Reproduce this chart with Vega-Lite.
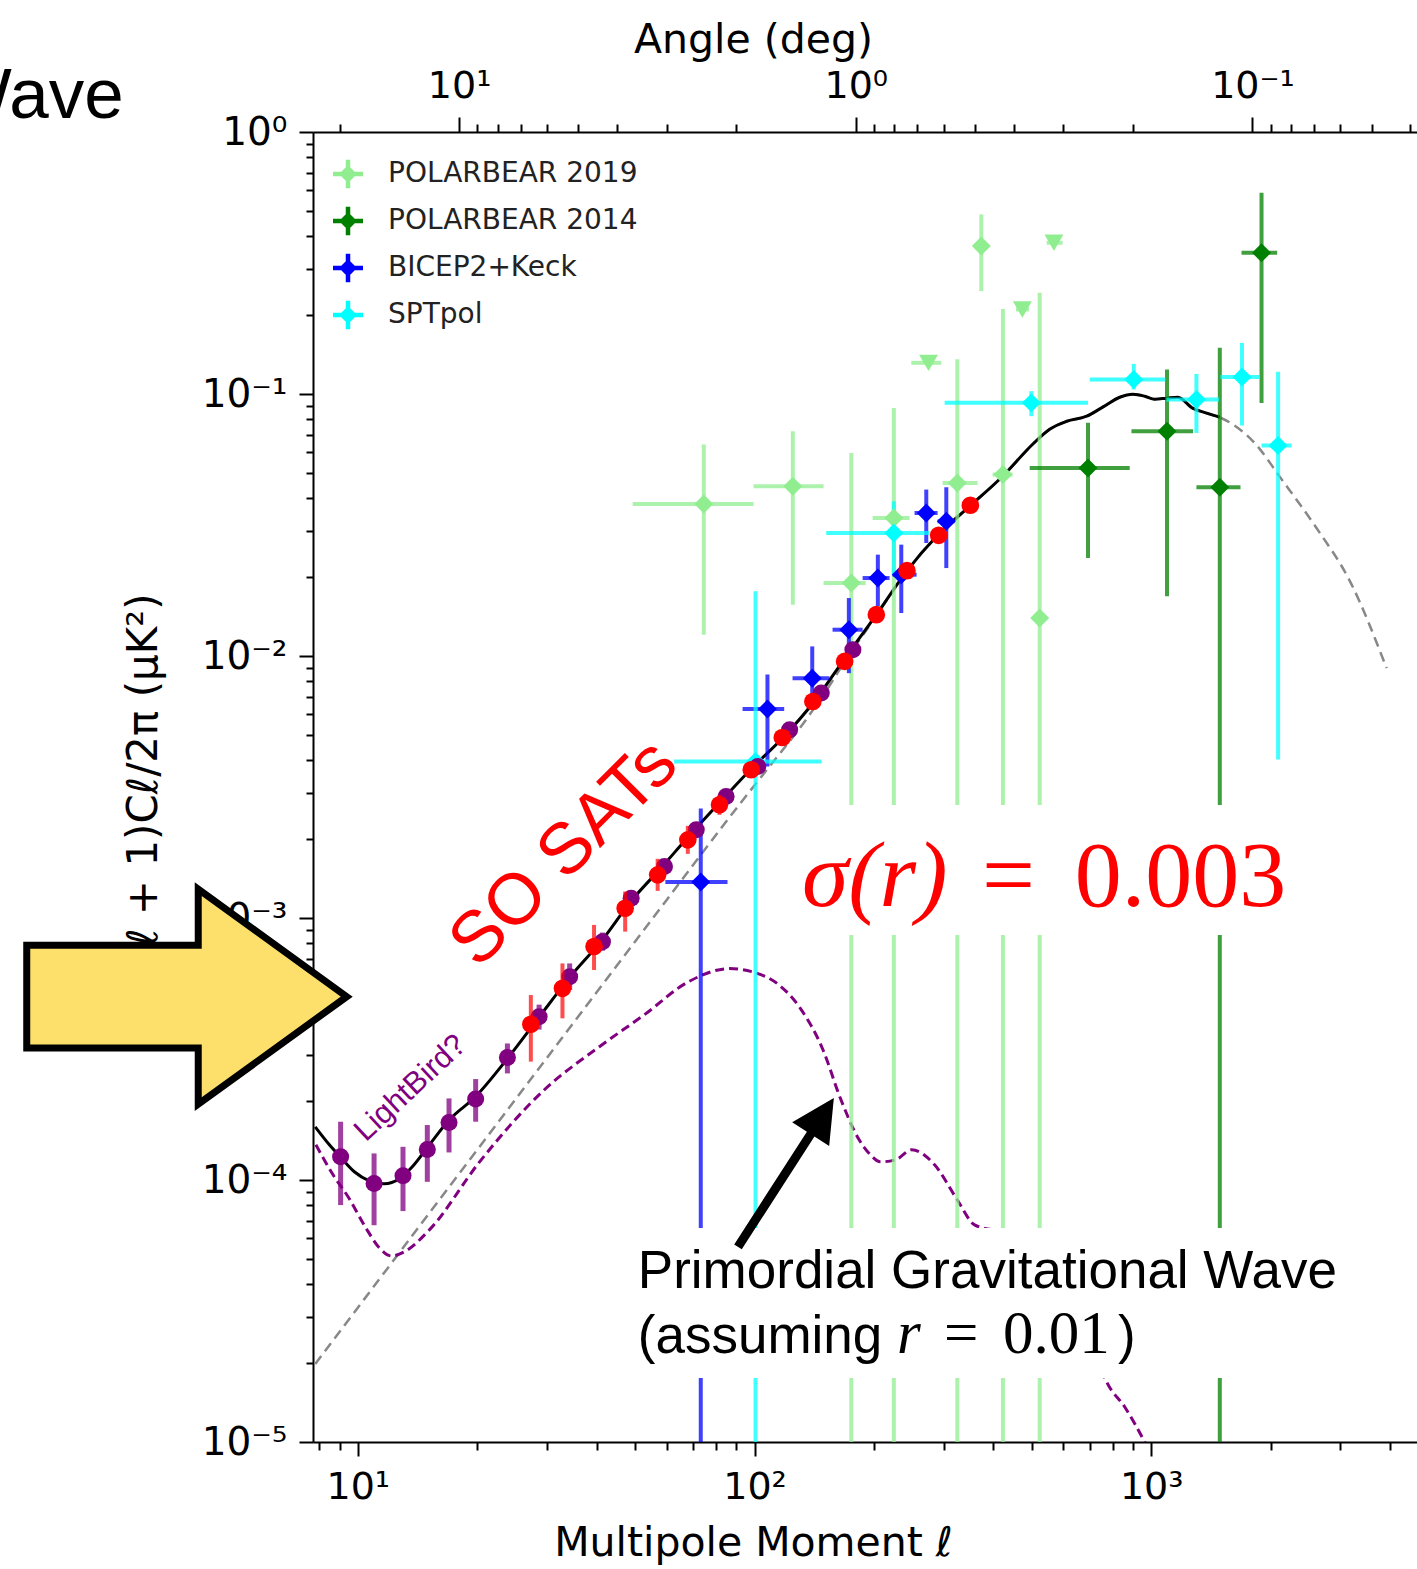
{
  "$schema": "https://vega.github.io/schema/vega-lite/v6.json",
  "usermeta": {"embedOptions": {"actions": false}},
  "width": 1104,
  "height": 1310,
  "autosize": {"type": "none"},
  "padding": {"left": 313, "top": 132, "right": 0, "bottom": 127},
  "background": "white",
  "config": {"view": {"stroke": null}, "font": "DejaVu Sans"},
  "datasets": {
    "total": [
      {"ell": 7.81, "v": 1.596e-4}, {"ell": 8.48, "v": 1.363e-4}, {"ell": 9.03, "v": 1.226e-4}, {"ell": 9.80, "v": 1.075e-4},
      {"ell": 10.69, "v": 9.93e-5}, {"ell": 11.66, "v": 9.67e-5}, {"ell": 12.73, "v": 1.011e-4}, {"ell": 13.72, "v": 1.123e-4},
      {"ell": 15.15, "v": 1.363e-4}, {"ell": 17.01, "v": 1.698e-4}, {"ell": 19.79, "v": 2.078e-4}, {"ell": 23.82, "v": 2.903e-4},
      {"ell": 28.69, "v": 4.20e-4}, {"ell": 34.16, "v": 5.92e-4}, {"ell": 41.37, "v": 8.27e-4}, {"ell": 48.96, "v": 1.165e-3},
      {"ell": 57.61, "v": 1.530e-3}, {"ell": 68.55, "v": 2.064e-3}, {"ell": 82.56, "v": 2.808e-3}, {"ell": 98.85, "v": 3.753e-3},
      {"ell": 118.4, "v": 4.906e-3}, {"ell": 141.7, "v": 6.733e-3}, {"ell": 169.6, "v": 9.88e-3}, {"ell": 203.1, "v": 1.442e-2},
      {"ell": 241.7, "v": 2.104e-2}, {"ell": 289.4, "v": 2.888e-2}, {"ell": 348.5, "v": 3.727e-2}, {"ell": 422.2, "v": 4.853e-2},
      {"ell": 502.5, "v": 6.43e-2}, {"ell": 554.6, "v": 7.34e-2}, {"ell": 612.3, "v": 7.87e-2}, {"ell": 687.8, "v": 8.23e-2},
      {"ell": 754.6, "v": 8.91e-2}, {"ell": 832.8, "v": 9.72e-2}, {"ell": 898.3, "v": 9.98e-2}, {"ell": 962.9, "v": 9.81e-2},
      {"ell": 1020.5, "v": 9.55e-2}, {"ell": 1094, "v": 9.64e-2}, {"ell": 1166.5, "v": 9.72e-2}, {"ell": 1272, "v": 8.83e-2},
      {"ell": 1380, "v": 8.45e-2}, {"ell": 1488.6, "v": 8.15e-2}
    ],
    "lensing": [
      {"ell": 7.81, "v": 1.986e-5}, {"ell": 15, "v": 7.33e-5}, {"ell": 30, "v": 2.93e-4}, {"ell": 60, "v": 1.17e-3},
      {"ell": 90, "v": 2.62e-3}, {"ell": 110, "v": 3.85e-3}, {"ell": 130, "v": 5.3e-3}, {"ell": 150, "v": 7.2e-3},
      {"ell": 169.6, "v": 9.6e-3}, {"ell": 203.1, "v": 1.43e-2}, {"ell": 241.7, "v": 2.098e-2}, {"ell": 289.4, "v": 2.882e-2},
      {"ell": 348.5, "v": 3.72e-2}, {"ell": 422.2, "v": 4.85e-2}, {"ell": 502.5, "v": 6.42e-2}, {"ell": 554.6, "v": 7.33e-2},
      {"ell": 612.3, "v": 7.86e-2}, {"ell": 687.8, "v": 8.22e-2}, {"ell": 754.6, "v": 8.90e-2}, {"ell": 832.8, "v": 9.71e-2},
      {"ell": 898.3, "v": 9.97e-2}, {"ell": 962.9, "v": 9.80e-2}, {"ell": 1020.5, "v": 9.54e-2}, {"ell": 1094, "v": 9.63e-2},
      {"ell": 1166.5, "v": 9.71e-2}, {"ell": 1272, "v": 8.82e-2}, {"ell": 1380, "v": 8.44e-2}, {"ell": 1488.6, "v": 8.14e-2},
      {"ell": 1806, "v": 6.60e-2}, {"ell": 2149, "v": 4.645e-2}, {"ell": 2610, "v": 3.08e-2}, {"ell": 3168, "v": 1.932e-2},
      {"ell": 3920, "v": 8.99e-3}
    ],
    "tensor": [
      {"ell": 7.84, "v": 1.363e-4}, {"ell": 8.63, "v": 1.056e-4}, {"ell": 9.52, "v": 8.48e-5}, {"ell": 10.44, "v": 6.63e-5},
      {"ell": 11.33, "v": 5.51e-5}, {"ell": 12.15, "v": 5.13e-5}, {"ell": 13.10, "v": 5.32e-5}, {"ell": 15.15, "v": 6.45e-5},
      {"ell": 20.25, "v": 1.17e-4}, {"ell": 29.72, "v": 2.23e-4}, {"ell": 40.64, "v": 3.227e-4}, {"ell": 52.8, "v": 4.276e-4},
      {"ell": 68.15, "v": 5.71e-4}, {"ell": 86.5, "v": 6.41e-4}, {"ell": 98.3, "v": 6.24e-4}, {"ell": 115.0, "v": 5.57e-4},
      {"ell": 130.6, "v": 4.51e-4}, {"ell": 148.4, "v": 3.17e-4}, {"ell": 164.8, "v": 2.042e-4}, {"ell": 182.9, "v": 1.437e-4},
      {"ell": 195.0, "v": 1.259e-4}, {"ell": 207.9, "v": 1.173e-4}, {"ell": 226.8, "v": 1.194e-4}, {"ell": 248.9, "v": 1.304e-4},
      {"ell": 284.4, "v": 1.143e-4}, {"ell": 323.2, "v": 8.48e-5}, {"ell": 358.7, "v": 6.74e-5}, {"ell": 398.4, "v": 6.45e-5},
      {"ell": 439.7, "v": 6.34e-5}, {"ell": 523.5, "v": 5.32e-5}, {"ell": 623, "v": 3.43e-5}, {"ell": 720, "v": 2.21e-5},
      {"ell": 772, "v": 1.695e-5}, {"ell": 857.6, "v": 1.36e-5}, {"ell": 963, "v": 1.0e-5}, {"ell": 1050, "v": 7.7e-6}
    ],
    "exp": [
      {"exp": "POLARBEAR 2019", "ell": 74.5, "v": 0.03804, "lo": 0.01206, "hi": 0.0641, "xlo": 49.3, "xhi": 99.4},
      {"exp": "POLARBEAR 2019", "ell": 124.9, "v": 0.04444, "lo": 0.0157, "hi": 0.0721, "xlo": 99.4, "xhi": 149.3},
      {"exp": "POLARBEAR 2019", "ell": 175.4, "v": 0.01898, "lo": 1e-7, "hi": 0.0596, "xlo": 149.3, "xhi": 190.6},
      {"exp": "POLARBEAR 2019", "ell": 224.5, "v": 0.03363, "lo": 1e-7, "hi": 0.0885, "xlo": 198.5, "xhi": 246},
      {"exp": "POLARBEAR 2019", "ell": 324.5, "v": 0.04575, "lo": 1e-7, "hi": 0.1358, "xlo": 298, "xhi": 365},
      {"exp": "POLARBEAR 2019", "ell": 422.9, "v": 0.04926, "lo": 1e-7, "hi": 0.2109, "xlo": 398.3, "xhi": 447.3},
      {"exp": "POLARBEAR 2019", "ell": 523.4, "v": 0.01396, "lo": 1e-7, "hi": 0.2433, "xlo": 515, "xhi": 532},
      {"exp": "POLARBEAR 2019", "ell": 373, "v": 0.3669, "lo": 0.247, "hi": 0.4849, "xlo": 360, "xhi": 386},
      {"exp": "POLARBEAR 2014", "ell": 692.9, "v": 0.0522, "lo": 0.02365, "hi": 0.0776, "xlo": 493.9, "xhi": 882.6},
      {"exp": "POLARBEAR 2014", "ell": 1096, "v": 0.0721, "lo": 0.01689, "hi": 0.1241, "xlo": 891.5, "xhi": 1275},
      {"exp": "POLARBEAR 2014", "ell": 1489, "v": 0.04406, "lo": 1e-7, "hi": 0.15, "xlo": 1300, "xhi": 1679},
      {"exp": "POLARBEAR 2014", "ell": 1897, "v": 0.3459, "lo": 0.0924, "hi": 0.5863, "xlo": 1689, "xhi": 2077},
      {"exp": "BICEP2+Keck", "ell": 271.0, "v": 0.03514, "lo": 0.02699, "hi": 0.04318, "xlo": 253.2, "xhi": 289.4},
      {"exp": "BICEP2+Keck", "ell": 304.4, "v": 0.03266, "lo": 0.02166, "hi": 0.04406, "xlo": 289.4, "xhi": 319.4},
      {"exp": "BICEP2+Keck", "ell": 234.4, "v": 0.02044, "lo": 0.01459, "hi": 0.02661, "xlo": 222.9, "xhi": 256.2},
      {"exp": "BICEP2+Keck", "ell": 204.6, "v": 0.01984, "lo": 0.01547, "hi": 0.02437, "xlo": 187.3, "xhi": 219.0},
      {"exp": "BICEP2+Keck", "ell": 172.9, "v": 0.0126, "lo": 0.0086, "hi": 0.01664, "xlo": 157.3, "xhi": 187.3},
      {"exp": "BICEP2+Keck", "ell": 139.8, "v": 0.00823, "lo": 0.00653, "hi": 0.01088, "xlo": 124.7, "xhi": 154.5},
      {"exp": "BICEP2+Keck", "ell": 107.8, "v": 0.00628, "lo": 0.003787, "hi": 0.0085, "xlo": 93.3, "xhi": 118.8},
      {"exp": "BICEP2+Keck", "ell": 73.2, "v": 0.001372, "lo": 1e-7, "hi": 0.002617, "xlo": 59.6, "xhi": 85.5},
      {"exp": "SPTpol", "ell": 498.7, "v": 0.0925, "lo": 0.0823, "hi": 0.1025, "xlo": 301.5, "xhi": 692.9},
      {"exp": "SPTpol", "ell": 903.6, "v": 0.1136, "lo": 0.104, "hi": 0.1303, "xlo": 699.8, "xhi": 1086},
      {"exp": "SPTpol", "ell": 1300, "v": 0.0953, "lo": 0.071, "hi": 0.1193, "xlo": 1092, "xhi": 1483},
      {"exp": "SPTpol", "ell": 1694, "v": 0.1162, "lo": 0.0758, "hi": 0.1567, "xlo": 1494.5, "xhi": 1878},
      {"exp": "SPTpol", "ell": 2088.5, "v": 0.0636, "lo": 0.00403, "hi": 0.1215, "xlo": 1897, "xhi": 2257},
      {"exp": "SPTpol", "ell": 224.5, "v": 0.02947, "lo": 0.02044, "hi": 0.03896, "xlo": 151.6, "xhi": 276.3},
      {"exp": "SPTpol", "ell": 100.6, "v": 0.003957, "lo": 1e-7, "hi": 0.01765, "xlo": 62.7, "xhi": 147.6}
    ],
    "ul": [
      {"ell": 274.6, "v": 0.1315, "xlo": 248.5, "xhi": 295.8},
      {"ell": 473.3, "v": 0.2103, "xlo": 456, "xhi": 492},
      {"ell": 568.6, "v": 0.3777, "xlo": 545, "xhi": 598}
    ],
    "lightbird": [
      {"ell": 9.05, "v": 1.226e-4, "lo": 8.02e-5, "hi": 1.669e-4},
      {"ell": 10.99, "v": 9.69e-5, "lo": 6.72e-5, "hi": 1.263e-4},
      {"ell": 13.0, "v": 1.038e-4, "lo": 7.61e-5, "hi": 1.339e-4},
      {"ell": 14.97, "v": 1.307e-4, "lo": 9.84e-5, "hi": 1.621e-4},
      {"ell": 16.98, "v": 1.658e-4, "lo": 1.274e-4, "hi": 2.048e-4},
      {"ell": 19.82, "v": 2.037e-4, "lo": 1.669e-4, "hi": 2.428e-4},
      {"ell": 23.83, "v": 2.937e-4, "lo": 2.552e-4, "hi": 3.32e-4},
      {"ell": 28.64, "v": 4.20e-4, "lo": 3.75e-4, "hi": 4.67e-4},
      {"ell": 34.2, "v": 5.97e-4, "lo": 5.31e-4, "hi": 6.71e-4},
      {"ell": 41.37, "v": 8.12e-4, "lo": 7.5e-4, "hi": 8.8e-4},
      {"ell": 48.87, "v": 1.189e-3, "lo": 1.11e-3, "hi": 1.27e-3},
      {"ell": 59.3, "v": 1.571e-3, "lo": 1.48e-3, "hi": 1.67e-3},
      {"ell": 71.3, "v": 2.170e-3, "lo": 2.05e-3, "hi": 2.30e-3},
      {"ell": 84.8, "v": 2.908e-3, "lo": 2.75e-3, "hi": 3.07e-3},
      {"ell": 101.9, "v": 3.787e-3, "lo": 3.6e-3, "hi": 3.98e-3},
      {"ell": 122.6, "v": 5.23e-3, "lo": 4.98e-3, "hi": 5.49e-3},
      {"ell": 147.3, "v": 7.22e-3, "lo": 6.88e-3, "hi": 7.57e-3},
      {"ell": 177.0, "v": 1.057e-2, "lo": 1.01e-2, "hi": 1.11e-2}
    ],
    "so": [
      {"ell": 27.3, "v": 3.93e-4, "lo": 2.83e-4, "hi": 5.08e-4},
      {"ell": 32.8, "v": 5.39e-4, "lo": 4.14e-4, "hi": 6.71e-4},
      {"ell": 39.4, "v": 7.78e-4, "lo": 6.33e-4, "hi": 9.41e-4},
      {"ell": 47.2, "v": 1.089e-3, "lo": 8.87e-4, "hi": 1.262e-3},
      {"ell": 57.0, "v": 1.461e-3, "lo": 1.269e-3, "hi": 1.682e-3},
      {"ell": 67.9, "v": 1.987e-3, "lo": 1.757e-3, "hi": 2.247e-3},
      {"ell": 81.6, "v": 2.704e-3, "lo": 2.476e-3, "hi": 2.953e-3},
      {"ell": 98.1, "v": 3.678e-3, "lo": 3.428e-3, "hi": 3.946e-3},
      {"ell": 117.5, "v": 4.887e-3, "lo": 4.636e-3, "hi": 5.151e-3},
      {"ell": 140.3, "v": 6.707e-3, "lo": 6.36e-3, "hi": 7.07e-3},
      {"ell": 168.7, "v": 9.537e-3, "lo": 9.05e-3, "hi": 1.005e-2},
      {"ell": 202.8, "v": 1.438e-2, "lo": 1.364e-2, "hi": 1.516e-2},
      {"ell": 242.3, "v": 2.117e-2, "lo": 2.01e-2, "hi": 2.23e-2},
      {"ell": 291.2, "v": 2.888e-2, "lo": 2.74e-2, "hi": 3.04e-2},
      {"ell": 350, "v": 3.76e-2, "lo": 3.57e-2, "hi": 3.96e-2}
    ]
  },
  "layer": [
    {
      "layer": [
        {
          "data": {"name": "lensing"},
          "mark": {"type": "line", "color": "#888888", "strokeWidth": 2.5, "strokeDash": [10, 6], "interpolate": "monotone", "clip": true},
          "encoding": {
            "x": {
              "field": "ell", "type": "quantitative",
              "scale": {"type": "log", "domain": [7.71, 4677], "nice": false},
              "axis": {
                "orient": "bottom", "zindex": 0, "grid": false,
                "values": [8, 9, 10, 20, 30, 40, 50, 60, 70, 80, 90, 100, 200, 300, 400, 500, 600, 700, 800, 900, 1000, 2000, 3000, 4000],
                "labelExpr": "abs(log(datum.value)/LN10 - round(log(datum.value)/LN10)) < 0.01 ? '10' + (round(log(datum.value)/LN10) < 0 ? '⁻' : '') + ['⁰','¹','²','³','⁴','⁵'][abs(round(log(datum.value)/LN10))] : ''",
                "tickSize": {"condition": {"test": "abs(log(datum.value)/LN10 - round(log(datum.value)/LN10)) < 0.01", "value": 14}, "value": 8},
                "tickWidth": 2, "tickColor": "black", "domainColor": "black", "domainWidth": 2,
                "labelFont": "DejaVu Sans", "labelFontSize": 38, "labelColor": "black", "labelPadding": 12,
                "labelOverlap": false, "labelFlush": false, "labelBound": false,
                "title": "Multipole Moment ℓ", "titleFont": "DejaVu Sans", "titleFontSize": 41, "titleFontWeight": "normal",
                "titleColor": "black", "titleX": 440, "titleY": 113, "titleAlign": "center", "titleBaseline": "alphabetic", "titleLimit": 1000
              }
            },
            "y": {
              "field": "v", "type": "quantitative",
              "scale": {"type": "log", "domain": [1e-5, 1], "nice": false},
              "axis": {
                "orient": "left", "zindex": 0, "grid": false,
                "values": [1e-5, 2e-5, 3e-5, 4e-5, 5e-5, 6e-5, 7e-5, 8e-5, 9e-5, 1e-4, 2e-4, 3e-4, 4e-4, 5e-4, 6e-4, 7e-4, 8e-4, 9e-4, 1e-3, 2e-3, 3e-3, 4e-3, 5e-3, 6e-3, 7e-3, 8e-3, 9e-3, 0.01, 0.02, 0.03, 0.04, 0.05, 0.06, 0.07, 0.08, 0.09, 0.1, 0.2, 0.3, 0.4, 0.5, 0.6, 0.7, 0.8, 0.9, 1],
                "labelExpr": "abs(log(datum.value)/LN10 - round(log(datum.value)/LN10)) < 0.01 ? '10' + (round(log(datum.value)/LN10) < 0 ? '⁻' : '') + ['⁰','¹','²','³','⁴','⁵'][abs(round(log(datum.value)/LN10))] : ''",
                "tickSize": {"condition": {"test": "abs(log(datum.value)/LN10 - round(log(datum.value)/LN10)) < 0.01", "value": 14}, "value": 7},
                "tickWidth": 2, "tickColor": "black", "domainColor": "black", "domainWidth": 2,
                "labelFont": "DejaVu Sans", "labelFontSize": 39, "labelColor": "black", "labelPadding": 12,
                "labelOverlap": false, "labelFlush": false, "labelBound": false, "labelLimit": 300,
                "title": "ℓ(ℓ + 1)Cℓ/2π (μK²)", "titleFont": "DejaVu Sans", "titleFontSize": 42, "titleFontWeight": "normal",
                "titleColor": "black", "titleX": -157, "titleY": 654, "titleAngle": 270, "titleAlign": "center", "titleBaseline": "alphabetic", "titleLimit": 1000
              }
            }
          }
        },
        {
          "data": {"name": "tensor"},
          "mark": {"type": "line", "color": "#800080", "strokeWidth": 3, "strokeDash": [9, 5], "interpolate": "monotone", "clip": true},
          "encoding": {"x": {"field": "ell", "type": "quantitative"}, "y": {"field": "v", "type": "quantitative"}}
        },
        {
          "data": {"name": "total"},
          "mark": {"type": "line", "color": "black", "strokeWidth": 3, "interpolate": "monotone", "clip": true},
          "encoding": {"x": {"field": "ell", "type": "quantitative"}, "y": {"field": "v", "type": "quantitative"}}
        },
        {
          "data": {"name": "exp"},
          "transform": [{"filter": "datum.exp === 'POLARBEAR 2019'"}],
          "layer": [
            {"mark": {"type": "rule", "strokeWidth": 4, "opacity": 0.75, "color": "#90EE90", "clip": true},
             "encoding": {"x": {"field": "ell", "type": "quantitative"}, "y": {"field": "lo", "type": "quantitative"}, "y2": {"field": "hi"}}},
            {"mark": {"type": "rule", "strokeWidth": 4, "opacity": 0.75, "color": "#90EE90", "clip": true},
             "encoding": {"y": {"field": "v", "type": "quantitative"}, "x": {"field": "xlo", "type": "quantitative"}, "x2": {"field": "xhi"}}}
          ]
        },
        {
          "data": {"name": "exp"},
          "transform": [{"filter": "datum.exp === 'POLARBEAR 2014'"}],
          "layer": [
            {"mark": {"type": "rule", "strokeWidth": 4, "opacity": 0.75, "color": "#008000", "clip": true},
             "encoding": {"x": {"field": "ell", "type": "quantitative"}, "y": {"field": "lo", "type": "quantitative"}, "y2": {"field": "hi"}}},
            {"mark": {"type": "rule", "strokeWidth": 4, "opacity": 0.75, "color": "#008000", "clip": true},
             "encoding": {"y": {"field": "v", "type": "quantitative"}, "x": {"field": "xlo", "type": "quantitative"}, "x2": {"field": "xhi"}}}
          ]
        },
        {
          "data": {"name": "exp"},
          "transform": [{"filter": "datum.exp === 'BICEP2+Keck'"}],
          "layer": [
            {"mark": {"type": "rule", "strokeWidth": 4, "opacity": 0.75, "color": "#0000FF", "clip": true},
             "encoding": {"x": {"field": "ell", "type": "quantitative"}, "y": {"field": "lo", "type": "quantitative"}, "y2": {"field": "hi"}}},
            {"mark": {"type": "rule", "strokeWidth": 4, "opacity": 0.75, "color": "#0000FF", "clip": true},
             "encoding": {"y": {"field": "v", "type": "quantitative"}, "x": {"field": "xlo", "type": "quantitative"}, "x2": {"field": "xhi"}}}
          ]
        },
        {
          "data": {"name": "exp"},
          "transform": [{"filter": "datum.exp === 'SPTpol'"}],
          "layer": [
            {"mark": {"type": "rule", "strokeWidth": 4, "opacity": 0.75, "color": "#00FFFF", "clip": true},
             "encoding": {"x": {"field": "ell", "type": "quantitative"}, "y": {"field": "lo", "type": "quantitative"}, "y2": {"field": "hi"}}},
            {"mark": {"type": "rule", "strokeWidth": 4, "opacity": 0.75, "color": "#00FFFF", "clip": true},
             "encoding": {"y": {"field": "v", "type": "quantitative"}, "x": {"field": "xlo", "type": "quantitative"}, "x2": {"field": "xhi"}}}
          ]
        },
        {
          "data": {"name": "ul"},
          "mark": {"type": "rule", "strokeWidth": 4, "opacity": 0.75, "color": "#90EE90", "clip": true},
          "encoding": {
            "y": {"field": "v", "type": "quantitative"},
            "x": {"field": "xlo", "type": "quantitative"},
            "x2": {"field": "xhi"}
          }
        },
        {
          "data": {"name": "ul"},
          "mark": {"type": "point", "shape": "triangle-down", "filled": true, "size": 360, "opacity": 1, "color": "#90EE90"},
          "encoding": {"x": {"field": "ell", "type": "quantitative"}, "y": {"field": "v", "type": "quantitative"}}
        },
        {
          "data": {"name": "exp"},
          "mark": {"type": "point", "shape": "diamond", "filled": true, "size": 360, "opacity": 1},
          "encoding": {
            "x": {"field": "ell", "type": "quantitative"},
            "y": {"field": "v", "type": "quantitative"},
            "color": {"field": "exp", "type": "nominal",
              "scale": {"domain": ["POLARBEAR 2019", "POLARBEAR 2014", "BICEP2+Keck", "SPTpol"], "range": ["#90EE90", "#008000", "#0000FF", "#00FFFF"]},
              "legend": {
                "title": null, "orient": "none", "legendX": 20, "legendY": 27, "padding": 0,
                "symbolType": "M-0.6,0L0,-0.6L0.6,0L0,0.6Z M-1,-0.15H1V0.15H-1Z M-0.15,-0.95H0.15V0.95H-0.15Z",
                "symbolSize": 900, "symbolStrokeWidth": 0, "symbolOpacity": 1,
                "labelFont": "DejaVu Sans", "labelFontSize": 28, "labelColor": "#222222", "labelOffset": 25, "labelLimit": 400,
                "rowPadding": 17
              }
            }
          }
        },
        {
          "data": {"name": "lightbird"},
          "mark": {"type": "rule", "strokeWidth": 5, "opacity": 0.75, "color": "#800080", "clip": true},
          "encoding": {"x": {"field": "ell", "type": "quantitative"}, "y": {"field": "lo", "type": "quantitative"}, "y2": {"field": "hi"}}
        },
        {
          "data": {"name": "lightbird"},
          "mark": {"type": "point", "shape": "circle", "filled": true, "size": 290, "opacity": 1, "color": "#800080"},
          "encoding": {"x": {"field": "ell", "type": "quantitative"}, "y": {"field": "v", "type": "quantitative"}}
        },
        {
          "data": {"name": "so"},
          "mark": {"type": "rule", "strokeWidth": 4, "opacity": 0.7, "color": "red", "clip": true},
          "encoding": {"x": {"field": "ell", "type": "quantitative"}, "y": {"field": "lo", "type": "quantitative"}, "y2": {"field": "hi"}}
        },
        {
          "data": {"name": "so"},
          "mark": {"type": "point", "shape": "circle", "filled": true, "size": 310, "opacity": 1, "color": "#FF0000"},
          "encoding": {"x": {"field": "ell", "type": "quantitative"}, "y": {"field": "v", "type": "quantitative"}}
        },
        {
          "data": {"values": [
            {"ell": 122.9, "ell2": 2239, "v": 0.0027, "v2": 0.000861},
            {"ell": 47.1, "ell2": 3081, "v": 6.56e-5, "v2": 1.755e-5}
          ]},
          "mark": {"type": "rect", "fill": "white", "stroke": null},
          "encoding": {
            "x": {"field": "ell", "type": "quantitative"}, "x2": {"field": "ell2"},
            "y": {"field": "v", "type": "quantitative"}, "y2": {"field": "v2"}
          }
        },
        {
          "data": {"values": [{"ell": 33.07, "v": 0.00177, "label": "SO SATs"}]},
          "mark": {"type": "text", "font": "Liberation Sans", "fontSize": 72, "angle": 315, "align": "center", "baseline": "middle", "color": "#FF0000"},
          "encoding": {"x": {"field": "ell", "type": "quantitative"}, "y": {"field": "v", "type": "quantitative"}, "text": {"field": "label"}}
        },
        {
          "data": {"values": [{"ell": 13.6, "v": 0.000224, "label": "LightBird?"}]},
          "mark": {"type": "text", "font": "Liberation Sans", "fontSize": 31, "angle": 317, "align": "center", "baseline": "middle", "color": "#800080"},
          "encoding": {"x": {"field": "ell", "type": "quantitative"}, "y": {"field": "v", "type": "quantitative"}, "text": {"field": "label"}}
        },
        {
          "data": {"values": [{"ell": 131.7, "v": 0.001111, "label": "σ(r)"}]},
          "mark": {"type": "text", "font": "Liberation Serif", "fontSize": 94, "fontStyle": "italic", "align": "left", "baseline": "alphabetic", "color": "#FF0000"},
          "encoding": {"x": {"field": "ell", "type": "quantitative"}, "y": {"field": "v", "type": "quantitative"}, "text": {"field": "label"}}
        },
        {
          "data": {"values": [{"ell": 374.5, "v": 0.001111, "label": "="}, {"ell": 642, "v": 0.001111, "label": "0.003"}]},
          "mark": {"type": "text", "font": "Liberation Serif", "fontSize": 94, "align": "left", "baseline": "alphabetic", "color": "#FF0000"},
          "encoding": {"x": {"field": "ell", "type": "quantitative"}, "y": {"field": "v", "type": "quantitative"}, "text": {"field": "label"}}
        },
        {
          "data": {"values": [
            {"ell": 50.8, "v": 3.87e-5, "label": "Primordial Gravitational Wave"},
            {"ell": 50.8, "v": 2.186e-5, "label": "(assuming"},
            {"ell": 824.7, "v": 2.186e-5, "label": ")"}
          ]},
          "mark": {"type": "text", "font": "Liberation Sans", "fontSize": 53, "align": "left", "baseline": "alphabetic", "color": "black"},
          "encoding": {"x": {"field": "ell", "type": "quantitative"}, "y": {"field": "v", "type": "quantitative"}, "text": {"field": "label"}}
        },
        {
          "data": {"values": [{"ell": 228.6, "v": 2.186e-5, "label": "r"}]},
          "mark": {"type": "text", "font": "Liberation Serif", "fontSize": 61, "fontStyle": "italic", "align": "left", "baseline": "alphabetic", "color": "black"},
          "encoding": {"x": {"field": "ell", "type": "quantitative"}, "y": {"field": "v", "type": "quantitative"}, "text": {"field": "label"}}
        },
        {
          "data": {"values": [{"ell": 300.4, "v": 2.186e-5, "label": "="}, {"ell": 423, "v": 2.186e-5, "label": "0.01"}]},
          "mark": {"type": "text", "font": "Liberation Serif", "fontSize": 61, "align": "left", "baseline": "alphabetic", "color": "black"},
          "encoding": {"x": {"field": "ell", "type": "quantitative"}, "y": {"field": "v", "type": "quantitative"}, "text": {"field": "label"}}
        },
        {
          "data": {"values": [{"ell": 2.57, "v": 1.131, "label": "Wave"}]},
          "mark": {"type": "text", "font": "Liberation Sans", "fontSize": 71, "align": "right", "baseline": "alphabetic", "color": "black"},
          "encoding": {"x": {"field": "ell", "type": "quantitative"}, "y": {"field": "v", "type": "quantitative"}, "text": {"field": "label"}}
        },
        {
          "data": {"values": [{"ell": 120.0, "v": 1.068e-4}]},
          "mark": {"type": "point", "shape": "M-88.5,-4.5L45.7,-4.5L45.7,-22L88.5,0L45.7,22L45.7,4.5L-88.5,4.5Z", "size": 4, "angle": 302.8, "filled": true, "fill": "black", "strokeWidth": 0, "opacity": 1},
          "encoding": {"x": {"field": "ell", "type": "quantitative"}, "y": {"field": "v", "type": "quantitative"}}
        },
        {
          "data": {"values": [{"ell": 3.705, "v": 5.01e-4}]},
          "mark": {"type": "point", "shape": "M-160,-51.3L11.5,-51.3L11.5,-107.5L160,0L11.5,107.5L11.5,51.3L-160,51.3Z", "size": 4, "filled": true, "fill": "#FCE06B", "stroke": "black", "strokeWidth": 7, "strokeJoin": "miter", "strokeMiterLimit": 10, "opacity": 1},
          "encoding": {"x": {"field": "ell", "type": "quantitative"}, "y": {"field": "v", "type": "quantitative"}}
        }
      ]
    },
    {
      "data": {"values": [{"angle": 1}]},
      "mark": {"type": "point", "opacity": 0},
      "encoding": {
        "x": {
          "field": "angle", "type": "quantitative",
          "scale": {"type": "log", "domain": [0.038486, 23.346], "reverse": true, "nice": false},
          "axis": {
            "orient": "top", "zindex": 0, "grid": false,
            "values": [20, 10, 9, 8, 7, 6, 5, 4, 3, 2, 1, 0.9, 0.8, 0.7, 0.6, 0.5, 0.4, 0.3, 0.2, 0.1, 0.09, 0.08, 0.07, 0.06, 0.05, 0.04],
            "labelExpr": "abs(log(datum.value)/LN10 - round(log(datum.value)/LN10)) < 0.01 ? '10' + (round(log(datum.value)/LN10) < 0 ? '⁻' : '') + ['⁰','¹','²','³','⁴','⁵'][abs(round(log(datum.value)/LN10))] : ''",
            "tickSize": {"condition": {"test": "abs(log(datum.value)/LN10 - round(log(datum.value)/LN10)) < 0.01", "value": 15}, "value": 8},
            "tickWidth": 2, "tickColor": "black", "domainColor": "black", "domainWidth": 2,
            "labelFont": "DejaVu Sans", "labelFontSize": 38, "labelColor": "black", "labelPadding": 12,
            "labelOverlap": false, "labelFlush": false, "labelBound": false,
            "title": "Angle (deg)", "titleFont": "DejaVu Sans", "titleFontSize": 41, "titleFontWeight": "normal",
            "titleColor": "black", "titleX": 440, "titleY": -80, "titleAlign": "center", "titleBaseline": "alphabetic", "titleLimit": 1000
          }
        }
      }
    }
  ],
  "resolve": {"scale": {"x": "independent"}}
}
